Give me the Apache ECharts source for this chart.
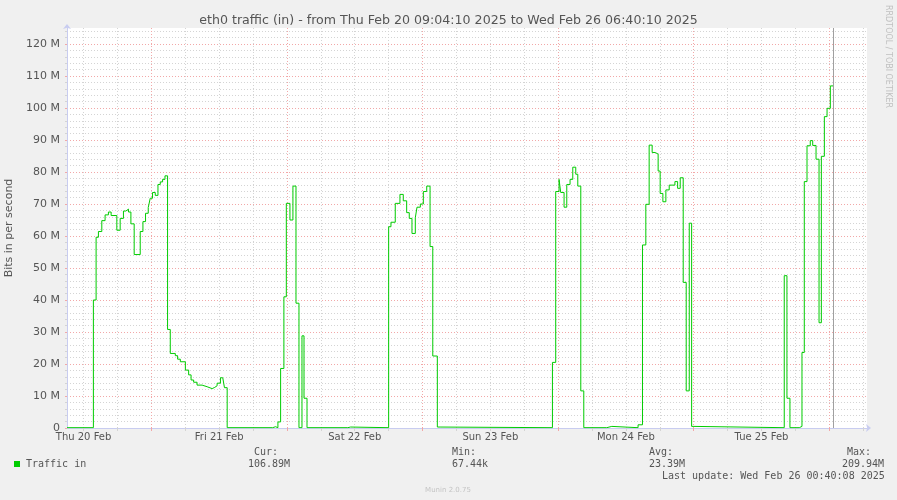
<!DOCTYPE html>
<html>
<head>
<meta charset="utf-8">
<script src="https://cdn.jsdelivr.net/npm/echarts@6/dist/echarts.min.js"></script>
<style>
  html, body { margin: 0; padding: 0; background: #f0f0f0; }
  #chart { width: 897px; height: 500px; }
</style>
</head>
<body>
<div id="chart"></div>
<script>
// hours counted from Thu 20 Feb 2025 00:00
const startHour = 9 + 4 / 60 + 10 / 3600;   // Thu 20 Feb 09:04:10
const endHour = 150 + 40 / 60 + 10 / 3600;  // Wed 26 Feb 06:40:10
const lastUpdateHour = 144 + 40 / 60 + 8 / 3600;

const dayLabelHours = [12, 36, 60, 84, 108, 132];
const dayLabels = ['Thu 20 Feb', 'Fri 21 Feb', 'Sat 22 Feb', 'Sun 23 Feb', 'Mon 24 Feb', 'Tue 25 Feb'];
const midnightHours = [24, 48, 72, 96, 120, 144];
const sixHourLines = [12, 18, 30, 36, 42, 54, 60, 66, 78, 84, 90, 102, 108, 114, 126, 132, 138, 150];

const majorTicks = [0, 10, 20, 30, 40, 50, 60, 70, 80, 90, 100, 110, 120];
const minorTicks = [2, 4, 6, 8, 12, 14, 16, 18, 22, 24, 26, 28, 32, 34, 36, 38, 42, 44, 46, 48,
  52, 54, 56, 58, 62, 64, 66, 68, 72, 74, 76, 78, 82, 84, 86, 88, 92, 94, 96, 98,
  102, 104, 106, 108, 112, 114, 116, 118, 122, 124];

// sample start times (hours) and traffic in Mbit/s, each value holds until the next time
const sampleHours = [
  9.07, 13.74, 14.22, 14.63, 15.23, 15.81, 16.40, 16.88, 17.89, 18.48, 19.06, 19.49, 19.95, 20.38,
  20.96, 22.03, 22.51, 22.97, 23.45, 23.80, 24.21, 24.69, 25.17, 25.58, 25.99, 26.41, 26.87, 27.35,
  28.24, 28.65, 29.13, 30.02, 30.60, 31.03, 31.49, 32.09, 32.98, 33.87, 34.76, 35.22, 35.64, 36.23,
  36.64, 36.94, 37.42,
  45.47, 45.98, 46.40, 46.88, 47.46, 47.89, 48.53, 49.06, 49.60, 50.13, 50.66, 51.02, 51.55,
  58.77, 59.27,
  66.00, 66.41, 67.17, 68.00, 68.59, 69.19, 69.65, 70.13, 70.72, 71.02, 71.61, 72.14, 72.74, 73.33,
  73.81, 74.62, 75.10,
  94.99, 95.57, 96.16, 96.46, 97.05, 97.53, 98.11, 98.59, 99.12, 99.48, 100.01, 100.54,
  104.60, 105.50,
  110.15, 110.93, 111.52, 112.11, 112.64, 113.17, 113.70, 114.06, 114.54, 115.07, 115.66, 116.67,
  117.15, 117.61, 118.14, 118.67, 119.21, 119.63, 120.04,
  136.02, 136.50, 137.03, 138.68, 139.16, 139.57, 140.05, 140.63, 141.06, 141.65, 142.18, 142.59,
  143.12, 143.60, 144.18, 144.67
];
const trafficIn = [
  0.1, 40, 59.6, 61.4, 64.8, 66.6, 67.5, 66.4, 61.8, 65.5, 67.8, 68.4, 67.5, 63.8,
  54.2, 61.4, 64.5, 67.1, 68.9, 71.8, 73.6, 72.7, 76.1, 76.9, 77.7, 78.8, 30.8, 23.3,
  22.6, 21.5, 20.7, 18.1, 16.6, 15.0, 14.3, 13.4, 12.9, 12.3, 12.7, 13.2, 14.0, 15.7,
  16.0, 12.6, 0.1,
  0.4, 0.1, 1.9, 18.6, 41.0, 70.2, 65.0, 75.6, 39.0, 0.1, 28.8, 9.3, 0.1,
  0.3, 0.1,
  62.9, 64.3, 70.2, 73.0, 71.0, 67.3, 65.5, 60.8, 65.7, 69.0, 70.0, 73.9, 75.6, 56.7,
  22.5, 0.3, 0.1,
  20.5, 73.9, 77.7, 73.6, 69.0, 76.1, 77.7, 81.5, 79.3, 75.6, 11.6, 0.1,
  0.5, 0.1,
  1.0, 57.2, 69.9, 88.4, 86.1, 85.6, 80.3, 73.3, 70.7, 74.4, 75.9, 77.0,
  74.9, 78.2, 45.5, 11.6, 64.0, 0.5, 0.1,
  47.6, 9.3, 0.1, 0.5, 23.6, 77.0, 88.2, 89.8, 88.3, 84.0, 32.9, 84.9,
  97.3, 99.9, 106.9, 106.9
];

const gridGray = '#d4d4d4';
const gridRed = '#f2a8a8';
const axisBlue = '#c8ccf0';
const textGray = '#555555';
const mono = '"DejaVu Sans Mono", monospace';

const chart = echarts.init(document.getElementById('chart'));

chart.setOption({
  animation: false,
  backgroundColor: '#f0f0f0',
  title: {
    text: 'eth0 traffic (in) - from Thu Feb 20 09:04:10 2025 to Wed Feb 26 06:40:10 2025',
    left: 'center',
    top: 9,
    textStyle: { fontFamily: 'DejaVu Sans', fontSize: 12.6, fontWeight: 'normal', color: textGray }
  },
  grid: {
    left: 67, top: 28, width: 800, height: 400,
    outerBoundsMode: 'none', containLabel: false,
    show: true, backgroundColor: '#ffffff', borderWidth: 0
  },
  xAxis: [
    {
      type: 'value', position: 'bottom', min: startHour, max: endHour,
      axisLine: { show: true, lineStyle: { color: axisBlue }, symbol: ['none', 'arrow'], symbolSize: [6, 5], symbolOffset: [0, 4] },
      axisTick: { show: true, length: 3, customValues: sixHourLines, lineStyle: { color: gridGray } },
      axisLabel: {
        customValues: dayLabelHours, margin: 4,
        fontFamily: 'DejaVu Sans', fontSize: 10, color: textGray,
        formatter: v => dayLabels[dayLabelHours.indexOf(Math.round(v))] || ''
      },
      splitLine: { show: true, lineStyle: { color: gridGray, type: [1, 2] } }
    },
    {
      type: 'value', position: 'bottom', min: startHour, max: endHour,
      axisLine: { show: false },
      axisTick: { show: true, length: 3, customValues: midnightHours, lineStyle: { color: gridRed } },
      axisLabel: { show: false },
      splitLine: { show: true, lineStyle: { color: gridRed, type: [1, 2] } }
    }
  ],
  yAxis: [
    {
      type: 'value', position: 'left', min: 0, max: 125,
      axisLine: { show: false },
      axisTick: { show: true, length: 2, customValues: minorTicks, lineStyle: { color: gridGray } },
      axisLabel: { show: false },
      splitLine: { show: true, lineStyle: { color: gridGray, type: [1, 2] } }
    },
    {
      type: 'value', position: 'left', min: 0, max: 125,
      name: 'Bits in per second', nameLocation: 'middle', nameRotate: 90, nameGap: 52,
      nameTextStyle: { fontFamily: 'DejaVu Sans', fontSize: 11, color: textGray },
      axisLine: { show: true, lineStyle: { color: axisBlue }, symbol: ['none', 'arrow'], symbolSize: [6, 5], symbolOffset: [0, 4] },
      axisTick: { show: true, length: 2, customValues: majorTicks, lineStyle: { color: gridRed } },
      axisLabel: {
        customValues: majorTicks, margin: 7,
        fontFamily: 'DejaVu Sans', fontSize: 11, color: textGray,
        formatter: v => v === 0 ? '0' : v + ' M'
      },
      splitLine: { show: true, lineStyle: { color: gridRed, type: [1, 2] } }
    }
  ],
  series: [
    {
      name: 'Traffic in', type: 'line', step: 'end', xAxisIndex: 0, yAxisIndex: 1,
      symbol: 'none', silent: true,
      lineStyle: { color: '#00cc00', width: 1 },
      data: sampleHours.map((h, i) => [h, trafficIn[i]]),
      markLine: {
        silent: true, symbol: 'none', label: { show: false },
        lineStyle: { color: '#a0a0a0', type: 'solid', width: 1 },
        data: [{ xAxis: lastUpdateHour }]
      }
    }
  ],
  graphic: [
    { type: 'rect', shape: { x: 14, y: 461, width: 6, height: 6 }, style: { fill: '#00cc00' } },
    { type: 'text', x: 26, y: 464, style: { text: 'Traffic in', font: '10px ' + mono, fill: textGray, verticalAlign: 'middle' } },
    { type: 'text', x: 254, y: 452, style: { text: 'Cur:', font: '10px ' + mono, fill: textGray, verticalAlign: 'middle' } },
    { type: 'text', x: 248, y: 464, style: { text: '106.89M', font: '10px ' + mono, fill: textGray, verticalAlign: 'middle' } },
    { type: 'text', x: 452, y: 452, style: { text: 'Min:', font: '10px ' + mono, fill: textGray, verticalAlign: 'middle' } },
    { type: 'text', x: 452, y: 464, style: { text: '67.44k', font: '10px ' + mono, fill: textGray, verticalAlign: 'middle' } },
    { type: 'text', x: 649, y: 452, style: { text: 'Avg:', font: '10px ' + mono, fill: textGray, verticalAlign: 'middle' } },
    { type: 'text', x: 649, y: 464, style: { text: '23.39M', font: '10px ' + mono, fill: textGray, verticalAlign: 'middle' } },
    { type: 'text', x: 847, y: 452, style: { text: 'Max:', font: '10px ' + mono, fill: textGray, verticalAlign: 'middle' } },
    { type: 'text', x: 842, y: 464, style: { text: '209.94M', font: '10px ' + mono, fill: textGray, verticalAlign: 'middle' } },
    { type: 'text', x: 662, y: 476, style: { text: 'Last update: Wed Feb 26 00:40:08 2025', font: '10px ' + mono, fill: textGray, verticalAlign: 'middle' } },
    { type: 'text', x: 448, y: 490, style: { text: 'Munin 2.0.75', font: '7px "DejaVu Sans"', fill: '#c4c4c4', align: 'center', verticalAlign: 'middle' } },
    { type: 'text', x: 888, y: 5, rotation: -Math.PI / 2, style: { text: 'RRDTOOL / TOBI OETIKER', font: '8px "DejaVu Sans"', fill: '#c0c0c0', verticalAlign: 'middle' } }
  ]
});
</script>
</body>
</html>
